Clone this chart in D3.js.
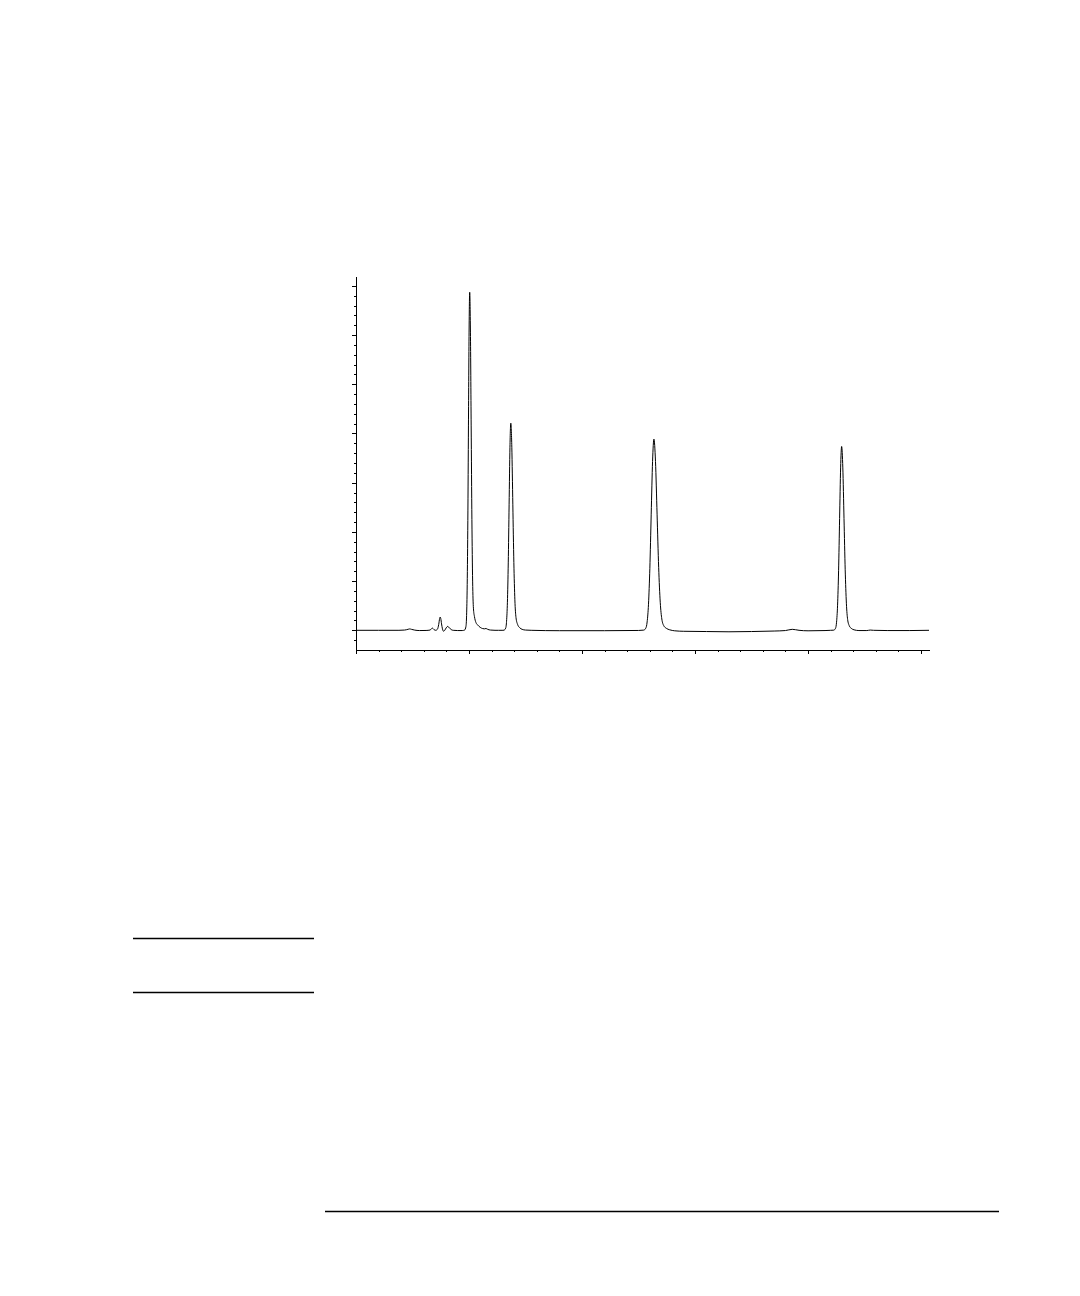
<!DOCTYPE html>
<html>
<head>
<meta charset="utf-8">
<script src="https://cdn.jsdelivr.net/npm/d3@7"></script>
<style>
  html, body { margin: 0; padding: 0; background: #fff; }
  svg { display: block; }
  .axis path, .axis line { stroke: #000; stroke-width: 1; shape-rendering: crispEdges; }
  .trace { fill: none; stroke: #000; stroke-width: 1; }
</style>
</head>
<body>
<div id="chart"></div>
<script>
// retention time (min) and detector signal
var traceTime = [
  0.00, 0.20, 0.38, 0.43, 0.46, 0.475, 0.49, 0.52, 0.56, 0.62,
  0.655, 0.676, 0.69, 0.705, 0.72, 0.732, 0.740, 0.745, 0.750, 0.757,
  0.765, 0.775, 0.785, 0.798, 0.812, 0.826, 0.842, 0.86, 0.90, 0.94,
  0.961, 0.973, 0.9785, 0.984, 0.9895, 0.995, 1.0005, 1.006, 1.0125, 1.019,
  1.0255, 1.032, 1.039, 1.048, 1.061, 1.076, 1.099, 1.121, 1.136, 1.15,
  1.165, 1.19, 1.23, 1.26, 1.30,
  1.310, 1.3247, 1.3322, 1.3397, 1.3472, 1.3547, 1.3622, 1.3697, 1.3787, 1.3877,
  1.3967, 1.4057, 1.4157, 1.4297, 1.4497, 1.4697, 1.4997, 1.55, 1.8, 2.2, 2.5,
  2.546, 2.564, 2.576, 2.588, 2.600, 2.612, 2.624, 2.636, 2.650, 2.664,
  2.678, 2.692, 2.706, 2.724, 2.746, 2.776, 2.82, 2.9, 3.1, 3.3,
  3.5, 3.7, 3.80, 3.86, 3.92, 4.0, 4.15, 4.20,
  4.227, 4.243, 4.252, 4.261, 4.270, 4.279, 4.288, 4.297, 4.3075, 4.318,
  4.3285, 4.339, 4.350, 4.365, 4.382, 4.407, 4.45, 4.52, 4.55, 4.58,
  4.7, 4.9, 5.07
];
var traceSignal = [
  0.000, 0.000, 0.000, 0.005, 0.020, 0.028, 0.020, 0.004, -0.005, -0.003,
  0.005, 0.045, 0.015, 0.000, 0.020, 0.12, 0.24, 0.27, 0.24, 0.13,
  0.03, -0.02, 0.000, 0.05, 0.08, 0.05, 0.015, 0.000, -0.005, -0.005,
  0.005, 0.08, 0.30, 0.93, 2.23, 4.17, 6.06, 6.87, 6.06, 4.17,
  2.25, 1.00, 0.45, 0.28, 0.16, 0.11, 0.06, 0.035, 0.03, 0.037,
  0.02, 0.005, 0.000, 0.000, 0.000,
  0.003, 0.047, 0.185, 0.57, 1.37, 2.55, 3.72, 4.21, 3.72, 2.55,
  1.38, 0.62, 0.26, 0.12, 0.05, 0.02, 0.005, 0.000, -0.008, -0.008, -0.003,
  0.004, 0.043, 0.17, 0.53, 1.26, 2.36, 3.43, 3.886, 3.43, 2.36,
  1.28, 0.57, 0.23, 0.09, 0.04, 0.01, -0.01, -0.02, -0.025, -0.03,
  -0.025, -0.015, -0.005, 0.02, 0.000, -0.01, -0.005, 0.000,
  0.003, 0.041, 0.164, 0.51, 1.21, 2.27, 3.30, 3.736, 3.30, 2.27,
  1.23, 0.55, 0.22, 0.09, 0.04, 0.01, -0.005, -0.005, 0.005, 0.000,
  -0.005, -0.005, 0.000
];
var xMajorTicks = [0, 1, 2, 3, 4, 5];
var yMajorTicks = [0, 1, 2, 3, 4, 5, 6, 7];

var width = 1080,
    height = 1296;

var svg = d3.select('#chart').append('svg')
    .attr('width', width).attr('height', height)
    .attr('viewBox', '0 0 ' + width + ' ' + height);
svg.append('rect').attr('width', width).attr('height', height).attr('fill', '#fff');

var x = d3.scaleLinear().domain([0, 5.07]).range([356, 929]);
var y = d3.scaleLinear().domain([-0.39, 7.2]).range([649.5, 276]);

function isMajor(list){
    return function(v){ return !list.some(function(m){ return Math.abs(m - v) < 1e-6; }); };
}
var xMinorTicks = d3.range(0, 5.01, 0.2).filter(isMajor(xMajorTicks));
var yMinorTicks = d3.range(-0.2, 7.01, 0.2).filter(isMajor(yMajorTicks));

// x axis
svg.append('g').attr('class', 'axis')
    .attr('transform', 'translate(0,' + y.range()[0] + ')')
    .call(d3.axisBottom(x).tickValues(xMinorTicks).tickSize(2).tickSizeOuter(0).tickFormat(''));
svg.append('g').attr('class', 'axis')
    .attr('transform', 'translate(0,' + y.range()[0] + ')')
    .call(d3.axisBottom(x).tickValues(xMajorTicks).tickSize(4).tickSizeOuter(0).tickFormat(''))
    .select('.domain').remove();

// y axis
svg.append('g').attr('class', 'axis')
    .attr('transform', 'translate(' + x.range()[0] + ',0)')
    .call(d3.axisLeft(y).tickValues(yMinorTicks).tickSize(2).tickSizeOuter(0).tickFormat(''));
svg.append('g').attr('class', 'axis')
    .attr('transform', 'translate(' + x.range()[0] + ',0)')
    .call(d3.axisLeft(y).tickValues(yMajorTicks).tickSize(4).tickSizeOuter(0).tickFormat(''))
    .select('.domain').remove();

var points = traceTime.map(function(t, i){ return [t, traceSignal[i]]; });
var line = d3.line()
    .x(function(d){ return x(d[0]); })
    .y(function(d){ return y(d[1]); })
    .curve(d3.curveMonotoneX);
svg.append('path').datum(points).attr('class', 'trace').attr('d', line);

// page rules
var rules = [
    {x1: 133, x2: 314, y: 938.5},
    {x1: 133, x2: 314, y: 992.5},
    {x1: 325, x2: 999, y: 1211.5}
];
svg.selectAll('line.rule').data(rules).enter().append('line')
    .attr('class', 'rule')
    .attr('x1', function(d){ return d.x1; }).attr('x2', function(d){ return d.x2; })
    .attr('y1', function(d){ return d.y; }).attr('y2', function(d){ return d.y; })
    .attr('stroke', '#000').attr('stroke-width', 1.3);
</script>
</body>
</html>
